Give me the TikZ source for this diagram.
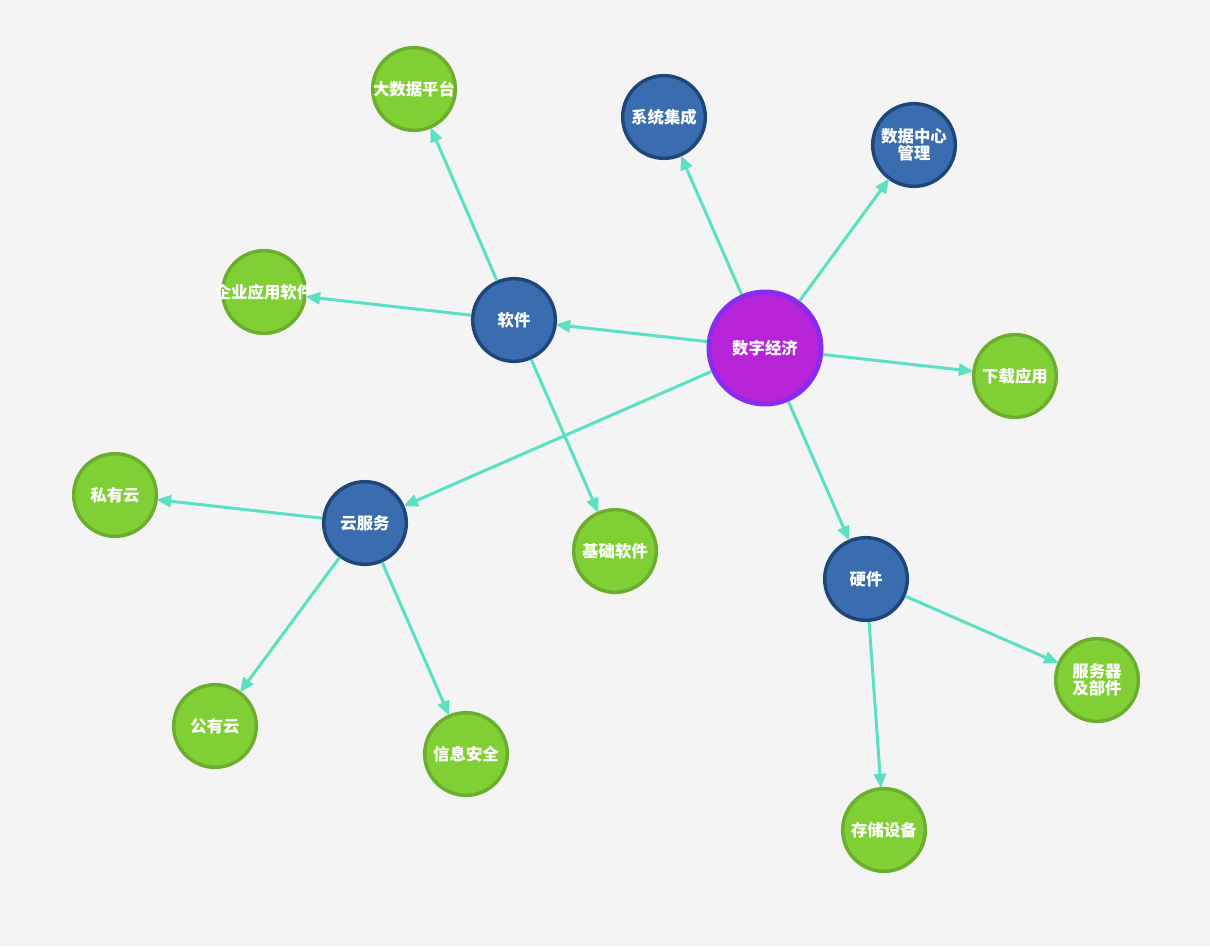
\documentclass[tikz,border=0pt]{standalone}
\usepackage{fontspec}
\setmainfont{Noto Sans CJK SC}
\usetikzlibrary{arrows.meta}
\definecolor{bg}{HTML}{F4F4F4}
\definecolor{linkc}{HTML}{5AE0C2}
\definecolor{hubfill}{HTML}{B825D8}
\definecolor{hubline}{HTML}{8A2CF0}
\definecolor{midfill}{HTML}{396DB0}
\definecolor{midline}{HTML}{1E4678}
\definecolor{leaffill}{HTML}{80D035}
\definecolor{leafline}{HTML}{6BAE2E}
\tikzset{
    every node/.style={circle, draw, inner sep=1pt, text=white, align=center,
    	font=\fontsize{12.3}{13}\selectfont\bfseries}
}
\tikzset{
    hub/.style={fill=hubfill, draw=hubline, line width=3.75pt, minimum size=84pt},
    mid/.style={fill=midfill, draw=midline, line width=2.6pt, minimum size=62pt},
    leaf/.style={fill=leaffill, draw=leafline, line width=2.6pt, minimum size=62pt}
}
\tikzset{
    every edge/.append style={draw=linkc, line width=2.25pt,
    	-{Triangle[length=11pt, width=9pt]}, shorten >=-1pt}
}

\begin{document}
\begin{tikzpicture}[x=0.75pt, y=-0.75pt]
  \fill[bg] (0,0) rectangle (1210,946);
  \useasboundingbox (0,0) rectangle (1210,946);

  \node (econ) [hub] at (765, 348) {数字经济};

  \node (soft) [mid] at (514, 320) {软件};
  \node (cloud) [mid] at (365, 523) {云服务};
  \node (hard) [mid] at (866, 579) {硬件};
  \node (integ) [mid] at (664, 117) {系统集成};
  \node (dcm) [mid] at (914, 145) {数据中心\\管理};

  \node (down) [leaf] at (1015, 376) {下载应用};
  \node (bigdata) [leaf] at (414, 89) {\makebox[0pt]{大数据平台}};
  \node (entapp) [leaf] at (264, 292) {\makebox[0pt]{企业应用软件}};
  \node (basesoft) [leaf] at (615, 551) {基础软件};
  \node (private) [leaf] at (115, 495) {私有云};
  \node (public) [leaf] at (215, 726) {公有云};
  \node (security) [leaf] at (466, 754) {信息安全};
  \node (server) [leaf] at (1097, 680) {服务器\\及部件};
  \node (storage) [leaf] at (884, 830) {存储设备};

  \draw (econ) edge (soft);
  \draw (econ) edge (cloud);
  \draw (econ) edge (hard);
  \draw (econ) edge (integ);
  \draw (econ) edge (dcm);
  \draw (econ) edge (down);
  \draw (soft) edge (bigdata);
  \draw (soft) edge (entapp);
  \draw (soft) edge (basesoft);
  \draw (cloud) edge (private);
  \draw (cloud) edge (public);
  \draw (cloud) edge (security);
  \draw (hard) edge (server);
  \draw (hard) edge (storage);
\end{tikzpicture}
\end{document}
